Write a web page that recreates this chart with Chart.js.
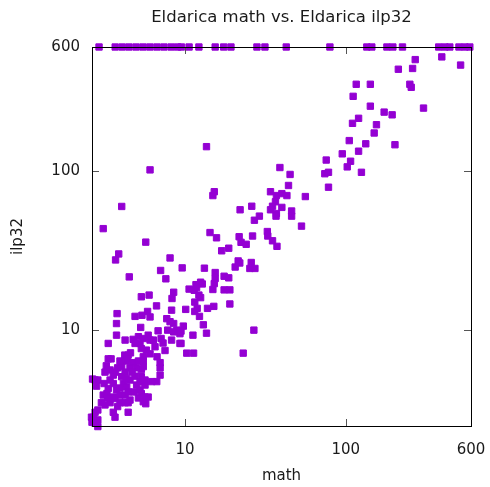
<!DOCTYPE html>
<html lang="en">
<head>
    <meta charset="UTF-8">
    <title>Eldarica math vs. Eldarica ilp32</title>
    <script src="https://cdn.jsdelivr.net/npm/chart.js@4/dist/chart.umd.min.js"></script>
    <style>
        html, body { margin: 0; padding: 0; background: #fff; }
        #wrap { width: 490px; height: 487px; }
    </style>
</head>
<body>
    <div id="wrap"><canvas id="scatter"></canvas></div>

    <script>
    // runtimes in seconds, both axes log scale, 600 = timeout
    var TIMEOUT = 600;
    var xTicks = [10, 100, 600];
    var yTicks = [10, 100, 600];

    // math solved, ilp32 timed out
    var timeoutMath = [2.92, 3.68, 4.07, 4.49, 4.97, 5.49, 6.06, 6.7, 7.4, 8.2, 9.0, 9.5,
        10.6, 12.2, 15.4, 17.4, 19.3, 28.0, 31.4, 42.6, 79.6, 135, 145, 180, 196, 225,
        378, 413, 443, 505, 550, 590];

    var mathTime = [
        270, 212, 260, 517, 395, 116, 142, 250, 255, 111,
        142, 173, 194, 304, 120, 110, 155, 150, 105, 133,
        202, 95, 120, 75.5, 107, 102, 38.9, 45, 74, 78,
        125, 78, 13.6, 15.2, 14.9, 44, 34, 37, 40, 43,
        36.5, 56, 22, 26, 35, 40, 34, 37, 36.8, 29,
        27, 46, 46, 53, 14.3, 15.7, 21.7, 22.3, 24, 26.3,
        32.5, 32.7, 35, 37.3, 16.9, 18.7, 21.4, 20.5, 21.9, 25.8,
        25.3, 27.2, 9.6, 13.2, 15.4, 15.4, 15.2, 14.9, 17.5, 18.7,
        12.5, 11.7, 12.8, 10.6, 11.4, 11.8, 17.5, 19, 12.5, 11.5,
        11.9, 11.5, 10.1, 13.8, 15.1, 19, 12.3, 13, 9.76, 9.44,
        13.6, 11.2, 26.8, 9.44, 10.25, 11.3, 23, 6.06, 4.04, 3.1,
        5.7, 3.87, 3.7, 8.07, 7.05, 7.6, 4.5, 8.5, 8.3, 5.35,
        5.98, 12.2, 3.78, 3.75, 3.75, 3.33, 4.89, 5.4, 5.85, 6.06,
        6.65, 8.25, 7.7, 8.07, 8.5, 7.51, 5.3, 6.8, 7.8, 8.5,
        8.9, 9.3, 4.24, 4.76, 5.13, 4.89, 5.5, 5.9, 6.35, 7.1,
        7.3, 8.25, 9.3, 6.06, 5.25, 5.75, 6.06, 5.5, 5.35, 6.51,
        6.7, 3.47, 4.43, 4.22, 4.58, 4.34, 4.04, 3.94, 4.76, 5.13,
        5.5, 5.35, 7.0, 7.0, 7.0, 6.2, 6.67, 5.35, 3.58, 3.42,
        3.58, 2.76, 2.87, 2.82, 4.04, 4.14, 4.34, 5.0, 5.25, 5.35,
        5.64, 5.9, 5.5, 3.75, 3.94, 3.58, 3.1, 3.27, 3.02, 3.18,
        3.42, 3.94, 4.24, 4.43, 3.58, 3.67, 4.43, 2.76, 2.87, 2.7,
        2.64, 2.87, 2.87, 2.76, 2.62, 3.18, 3.42, 3.7, 4.24, 4.55,
        3.14, 4.55, 4.89, 5.25, 5.64, 3.3, 4.24, 4.55, 3.81, 3.42,
        3.94, 4.43, 2.66, 4.37, 5.64, 5.7, 3.33, 5.5, 5.0, 3.33,
        3.67, 4.3, 4.82, 3.81, 3.24, 4.69, 5.13
    ];

    var ilp32Time = [
        500, 435, 440, 462, 520, 350, 350, 350, 335, 294,
        255, 234, 225, 248, 214, 199, 195, 173, 155, 148,
        146, 128, 133, 117, 115, 106, 105, 95, 96, 98,
        98, 79, 142, 74, 70, 81, 74, 70, 72, 70,
        64, 69, 57, 60, 60, 59, 57, 54, 52, 52,
        49, 56, 52, 45, 41, 38, 38.6, 35.6, 34.6, 39,
        41.6, 39, 36.4, 33.6, 31.5, 32.7, 27.2, 24.9, 26.4, 26.6,
        24.4, 24.4, 24.6, 24.5, 23, 21.1, 19.6, 18, 21.8, 21.3,
        20, 19.3, 19.5, 18.1, 17.8, 18.5, 17.9, 17.9, 16, 15,
        13.7, 13.1, 13.5, 13.7, 14.1, 14.6, 12.2, 10.8, 10.6, 9.86,
        9.57, 9.3, 10, 8.25, 7.17, 7.17, 7.17, 101.5, 59.8, 43.4,
        35.7, 30.1, 27.6, 28.4, 23.7, 21, 21.6, 17.3, 15.8, 16.2,
        16.6, 16.6, 12.7, 11.0, 9.3, 8.25, 12.2, 12.4, 13.1, 12.1,
        14.2, 13.35, 11.8, 11.3, 11.0, 7.45, 10.4, 9.9, 10.0, 9.75,
        10, 9.5, 8.66, 8.75, 9.1, 8.25, 8.86, 9.3, 8.66, 8.86,
        8.3, 8.66, 8.25, 8.66, 8.25, 7.49, 7.1, 6.8, 7.66, 7.86,
        6.8, 6.6, 6.97, 6.97, 7.2, 6.4, 5.9, 6.4, 6.25, 6.4,
        6.4, 5.66, 6.25, 5.8, 5.22, 4.75, 4.75, 5.1, 5.22, 4.86,
        4.62, 4.86, 4.86, 4.45, 5.1, 4.62, 4.4, 4.52, 4.21, 4.0,
        3.8, 3.8, 3.55, 4.21, 3.91, 3.8, 3.91, 4.0, 3.5, 3.39,
        3.5, 3.5, 3.5, 3.5, 3.05, 2.84, 3.05, 3.05, 3.15, 2.84,
        2.64, 2.73, 2.48, 2.6, 2.84, 5.45, 5.62, 5.45, 5.45, 5.8,
        4.62, 4.86, 5.14, 4.73, 4.52, 3.75, 3.91, 3.64, 3.31, 3.75,
        4.33, 4.09, 4.93, 6.6, 4.86, 3.45, 6.6, 5.9, 5.8, 4.3,
        3.72, 4.97, 4.09, 5.8, 5.97, 5.45, 3.75
    ];

    var puntos = [];
    for (var i = 0; i < mathTime.length; i++) {
        puntos.push({x: mathTime[i], y: ilp32Time[i]});
    }
    for (var j = 0; j < timeoutMath.length; j++) {
        puntos.push({x: timeoutMath[j], y: TIMEOUT});
    }

    var fuente = 'DejaVu Sans, Verdana, sans-serif';
    var textColor = '#1a1a1a';

    // gnuplot style box with inward ticks on all four sides
    var marco = {
        id: 'marco',
        afterDatasetsDraw: function(chart) {
            var ctx = chart.ctx;
            var a = chart.chartArea;
            var sx = chart.scales.x;
            var sy = chart.scales.y;
            var len = 7;
            ctx.save();
            ctx.lineWidth = 1;
            ctx.strokeStyle = '#555';
            ctx.beginPath();
            xTicks.forEach(function(v) {
                if (v >= TIMEOUT) return;
                var px = Math.round(sx.getPixelForValue(v)) + 0.5;
                ctx.moveTo(px, a.bottom); ctx.lineTo(px, a.bottom - len);
                ctx.moveTo(px, a.top); ctx.lineTo(px, a.top + len);
            });
            yTicks.forEach(function(v) {
                if (v >= TIMEOUT) return;
                var py = Math.round(sy.getPixelForValue(v)) + 0.5;
                ctx.moveTo(a.left, py); ctx.lineTo(a.left + len, py);
                ctx.moveTo(a.right, py); ctx.lineTo(a.right - len, py);
            });
            ctx.stroke();
            ctx.strokeStyle = '#000';
            ctx.strokeRect(Math.round(a.left) + 0.5, Math.round(a.top) + 0.5,
                Math.round(a.right - a.left), Math.round(a.bottom - a.top));
            ctx.restore();
        }
    };

    function fijarTicks(vals) {
        return function(scale) {
            scale.ticks = vals.map(function(v) { return {value: v}; });
        };
    }

    new Chart(document.getElementById('scatter'), {
        type: 'scatter',
        data: {
            datasets: [{
                label: 'math vs ilp32',
                data: puntos,
                pointStyle: 'rect',
                pointRadius: 4.5,
                pointHoverRadius: 4.5,
                borderWidth: 1,
                backgroundColor: '#9400d3',
                borderColor: '#9400d3',
                clip: false
            }]
        },
        options: {
            responsive: true,
            maintainAspectRatio: false,
            animation: false,
            events: [],
            layout: { padding: { left: 0, right: 19, top: 0, bottom: 0 } },
            plugins: {
                legend: { display: false },
                tooltip: { enabled: false },
                title: {
                    display: true,
                    fullSize: false,
                    text: 'Eldarica math vs. Eldarica ilp32',
                    color: textColor,
                    font: { family: fuente, size: 16.5, weight: 'normal' },
                    padding: { top: 8, bottom: 19.2 }
                }
            },
            scales: {
                x: {
                    type: 'logarithmic',
                    min: 2.64,
                    max: 600,
                    afterBuildTicks: fijarTicks(xTicks),
                    afterFit: function(scale) {
                        scale.height = 61;
                        scale.paddingLeft = 0;
                        scale.paddingRight = 0;
                    },
                    grid: { display: false, drawTicks: false },
                    border: { display: false },
                    ticks: {
                        color: textColor,
                        font: { family: fuente, size: 15 },
                        padding: 15,
                        maxRotation: 0,
                        autoSkip: false,
                        callback: function(v) { return String(v); }
                    },
                    title: {
                        display: true,
                        text: 'math',
                        color: textColor,
                        font: { family: fuente, size: 15 },
                        padding: { top: 0, bottom: 2 }
                    }
                },
                y: {
                    type: 'logarithmic',
                    min: 2.5,
                    max: 600,
                    afterBuildTicks: fijarTicks(yTicks),
                    afterFit: function(scale) {
                        scale.width = 92;
                        scale.paddingTop = 0;
                        scale.paddingBottom = 0;
                    },
                    grid: { display: false, drawTicks: false },
                    border: { display: false },
                    ticks: {
                        color: textColor,
                        font: { family: fuente, size: 15 },
                        padding: 12,
                        autoSkip: false,
                        callback: function(v) { return String(v); }
                    },
                    title: {
                        display: true,
                        text: 'ilp32',
                        color: textColor,
                        font: { family: fuente, size: 15 },
                        padding: { top: 9, bottom: 0 }
                    }
                }
            }
        },
        plugins: [marco]
    });
    </script>
</body>
</html>
